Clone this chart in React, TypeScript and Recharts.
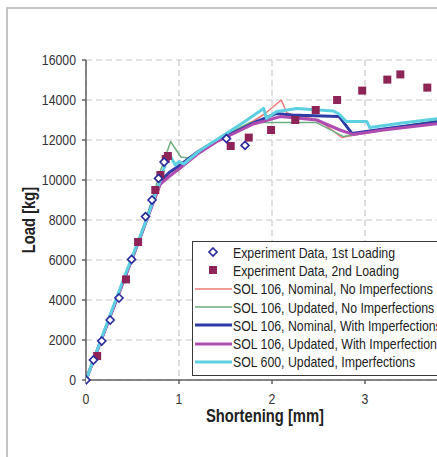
import { ComposedChart, Line, Scatter, XAxis, YAxis, CartesianGrid } from 'recharts';

// experiment data, 1st loading (diamonds)
const exp1X = [0, 0.08, 0.17, 0.26, 0.355, 0.49, 0.64, 0.71, 0.78, 0.84, 1.51, 1.71];
const exp1Y = [0, 1000, 1950, 3000, 4100, 6030, 8170, 9000, 10080, 10900, 12070, 11730];

// experiment data, 2nd loading (squares)
const exp2X = [0.12, 0.43, 0.56, 0.745, 0.8, 0.857, 0.88, 1.556, 1.75, 1.99, 2.25, 2.47, 2.7, 2.97, 3.24, 3.38, 3.67];
const exp2Y = [1200, 5030, 6900, 9500, 10250, 11050, 11200, 11700, 12120, 12500, 13000, 13500, 14000, 14470, 15020, 15280, 14620];

// SOL 106, nominal, no imperfections
const nomNoImpX = [0, 0.2, 0.4, 0.6, 0.8, 0.9, 1.0, 1.2, 1.4, 1.6, 1.8, 1.92, 2.1, 2.16, 2.3, 2.5, 2.75, 3.0, 3.4, 3.8];
const nomNoImpY = [0, 2450, 4900, 7350, 9800, 10400, 10750, 11450, 12000, 12450, 12950, 13300, 14000, 13350, 13200, 13000, 12130, 12350, 12650, 12950];

// SOL 106, updated, no imperfections
const updNoImpX = [0, 0.2, 0.4, 0.6, 0.81, 0.91, 1.02, 1.1, 1.3, 1.5, 1.76, 2.48, 2.77, 3.2, 3.8];
const updNoImpY = [0, 2450, 4900, 7350, 10580, 11920, 11150, 11100, 11700, 12250, 12870, 12870, 12170, 12550, 13000];

// SOL 106, nominal, with imperfections
const nomImpX = [0, 0.2, 0.4, 0.6, 0.8, 0.9, 1.0, 1.2, 1.4, 1.6, 1.8, 2.05, 2.2, 2.72, 2.86, 3.2, 3.8];
const nomImpY = [0, 2450, 4900, 7350, 9950, 10400, 10700, 11400, 11950, 12400, 12850, 13330, 13250, 13180, 12330, 12550, 12920];

// SOL 106, updated, with imperfections
const updImpX = [0, 0.2, 0.4, 0.6, 0.8, 0.9, 1.0, 1.2, 1.4, 1.6, 1.8, 2.09, 2.48, 2.73, 2.87, 3.2, 3.8];
const updImpY = [0, 2450, 4900, 7350, 9800, 10200, 10550, 11300, 11900, 12350, 12800, 13170, 13000, 12500, 12280, 12500, 12830];

// SOL 600, updated, imperfections
const sol600X = [0, 0.2, 0.4, 0.65, 0.8, 0.86, 0.9, 0.96, 1.0, 1.05, 1.23, 1.5, 1.7, 1.91, 1.94, 2.05, 2.27, 2.66, 2.72, 2.8, 3.02, 3.05, 3.4, 3.8];
const sol600Y = [0, 2500, 5000, 8000, 10000, 10900, 11250, 10750, 10920, 10800, 11500, 12300, 12900, 13580, 13080, 13420, 13580, 13450, 13300, 12920, 12920, 12630, 12850, 13080];

const xTicks = [0, 1, 2, 3];
const yTicks = [0, 2000, 4000, 6000, 8000, 10000, 12000, 14000, 16000];

const legendNames = [
  'Experiment Data, 1st Loading',
  'Experiment Data, 2nd Loading',
  'SOL 106, Nominal, No Imperfections',
  'SOL 106, Updated, No Imperfections',
  'SOL 106, Nominal, With Imperfections',
  'SOL 106, Updated, With Imperfections',
  'SOL 600, Updated, Imperfections',
];

const toPts = (xs: number[], ys: number[]) => xs.map((x, i) => ({ x, y: ys[i] }));

const FONT = '"Liberation Sans", Arial, sans-serif';
const SQUEEZE = 0.82;

const lines = [
  { data: toPts(nomNoImpX, nomNoImpY), color: '#ef7878', width: 1.5 },
  { data: toPts(updNoImpX, updNoImpY), color: '#6cae80', width: 1.5 },
  { data: toPts(nomImpX, nomImpY), color: '#2e3ca6', width: 3 },
  { data: toPts(updImpX, updImpY), color: '#b04cb0', width: 3 },
  { data: toPts(sol600X, sol600Y), color: '#5ccfe0', width: 3 },
];

const Diamond = (p: any) => {
  const { cx, cy } = p;
  if (cx == null || cy == null) return null;
  const r = 4;
  return (
    <polygon
      points={`${cx},${cy - r} ${cx + r},${cy} ${cx},${cy + r} ${cx - r},${cy}`}
      fill="#fff"
      stroke="#28289a"
      strokeWidth={1.6}
    />
  );
};

const Square = (p: any) => {
  const { cx, cy } = p;
  if (cx == null || cy == null) return null;
  return <rect x={cx - 4} y={cy - 4} width={8} height={8} fill="#8e2358" />;
};

// narrow tick text (the original is horizontally squeezed)
const NarrowTick = (p: any) => {
  const { x, y, payload, textAnchor, vertical } = p;
  return (
    <g transform={`translate(${x},${y}) scale(${SQUEEZE},1)`}>
      <text
        x={0}
        y={0}
        dy={vertical ? '0.355em' : '0.71em'}
        textAnchor={textAnchor}
        fill="#333"
        fontSize={15}
        fontFamily={FONT}
      >
        {payload.value}
      </text>
    </g>
  );
};

const LegendMarker = ({ i }: { i: number }) => {
  if (i === 0) return <Diamond cx={20} cy={9} />;
  if (i === 1) return <Square cx={20} cy={9} />;
  const l = lines[i - 2];
  return <line x1={2} x2={39} y1={9} y2={9} stroke={l.color} strokeWidth={l.width} />;
};

export default function App() {
  return (
    <div style={{ position: 'absolute', left: 0, top: 0, width: 437, height: 457, overflow: 'hidden', background: '#fff' }}>
      <div style={{ position: 'absolute', left: 6, top: 7, width: 480, height: 480, border: '2px solid #c4c4c4' }} />
      <div style={{ position: 'absolute', left: 0, top: 0 }}>
        <ComposedChart width={458} height={457} margin={{ top: 60, right: 0, left: 0, bottom: 0 }}>
          <CartesianGrid stroke="#c8c8c8" strokeDasharray="6 4" strokeWidth={1.2} />
          <XAxis
            type="number"
            dataKey="x"
            domain={[0, 4]}
            ticks={xTicks}
            height={77}
            tickSize={4}
            tickMargin={9}
            stroke="#606060"
            strokeWidth={1.5}
            tick={(p: any) => <NarrowTick {...p} textAnchor="middle" />}
            allowDataOverflow
          />
          <YAxis
            type="number"
            dataKey="y"
            domain={[0, 16000]}
            ticks={yTicks}
            width={86}
            tickSize={4}
            tickMargin={6}
            stroke="#606060"
            strokeWidth={1.5}
            tick={(p: any) => <NarrowTick {...p} textAnchor="end" vertical />}
          />
          {lines.map((l, i) => (
            <Line
              key={i}
              data={l.data}
              dataKey="y"
              type="linear"
              stroke={l.color}
              strokeWidth={l.width}
              dot={false}
              isAnimationActive={false}
              strokeLinejoin="round"
            />
          ))}
          <Scatter data={toPts(exp2X, exp2Y)} shape={Square} isAnimationActive={false} />
          <Scatter data={toPts(exp1X, exp1Y)} shape={Diamond} isAnimationActive={false} />
        </ComposedChart>
      </div>
      <div
        style={{
          position: 'absolute',
          left: 29,
          top: 220,
          transform: `translate(-50%, -50%) rotate(-90deg) scaleX(${SQUEEZE})`,
          fontFamily: FONT,
          fontWeight: 'bold',
          fontSize: 18,
          color: '#222',
          whiteSpace: 'nowrap',
        }}
      >
        Load [kg]
      </div>
      <div
        style={{
          position: 'absolute',
          left: 265,
          top: 416,
          transform: `translate(-50%, -50%) scaleX(${SQUEEZE})`,
          fontFamily: FONT,
          fontWeight: 'bold',
          fontSize: 18,
          color: '#222',
          whiteSpace: 'nowrap',
        }}
      >
        Shortening [mm]
      </div>
      <div
        style={{
          position: 'absolute',
          left: 192,
          top: 241,
          width: 280,
          height: 132,
          border: '1.5px solid #3a3a3a',
          background: '#fff',
          paddingTop: 1,
          fontFamily: FONT,
          fontSize: 15,
          color: '#222',
        }}
      >
        {legendNames.map((name, i) => (
          <div key={i} style={{ display: 'flex', alignItems: 'center', height: 18.3, whiteSpace: 'nowrap' }}>
            <svg width={40} height={18} style={{ flex: 'none' }}>
              <LegendMarker i={i} />
            </svg>
            <span style={{ display: 'inline-block', transform: `scaleX(${SQUEEZE})`, transformOrigin: 'left center' }}>
              {name}
            </span>
          </div>
        ))}
      </div>
    </div>
  );
}
